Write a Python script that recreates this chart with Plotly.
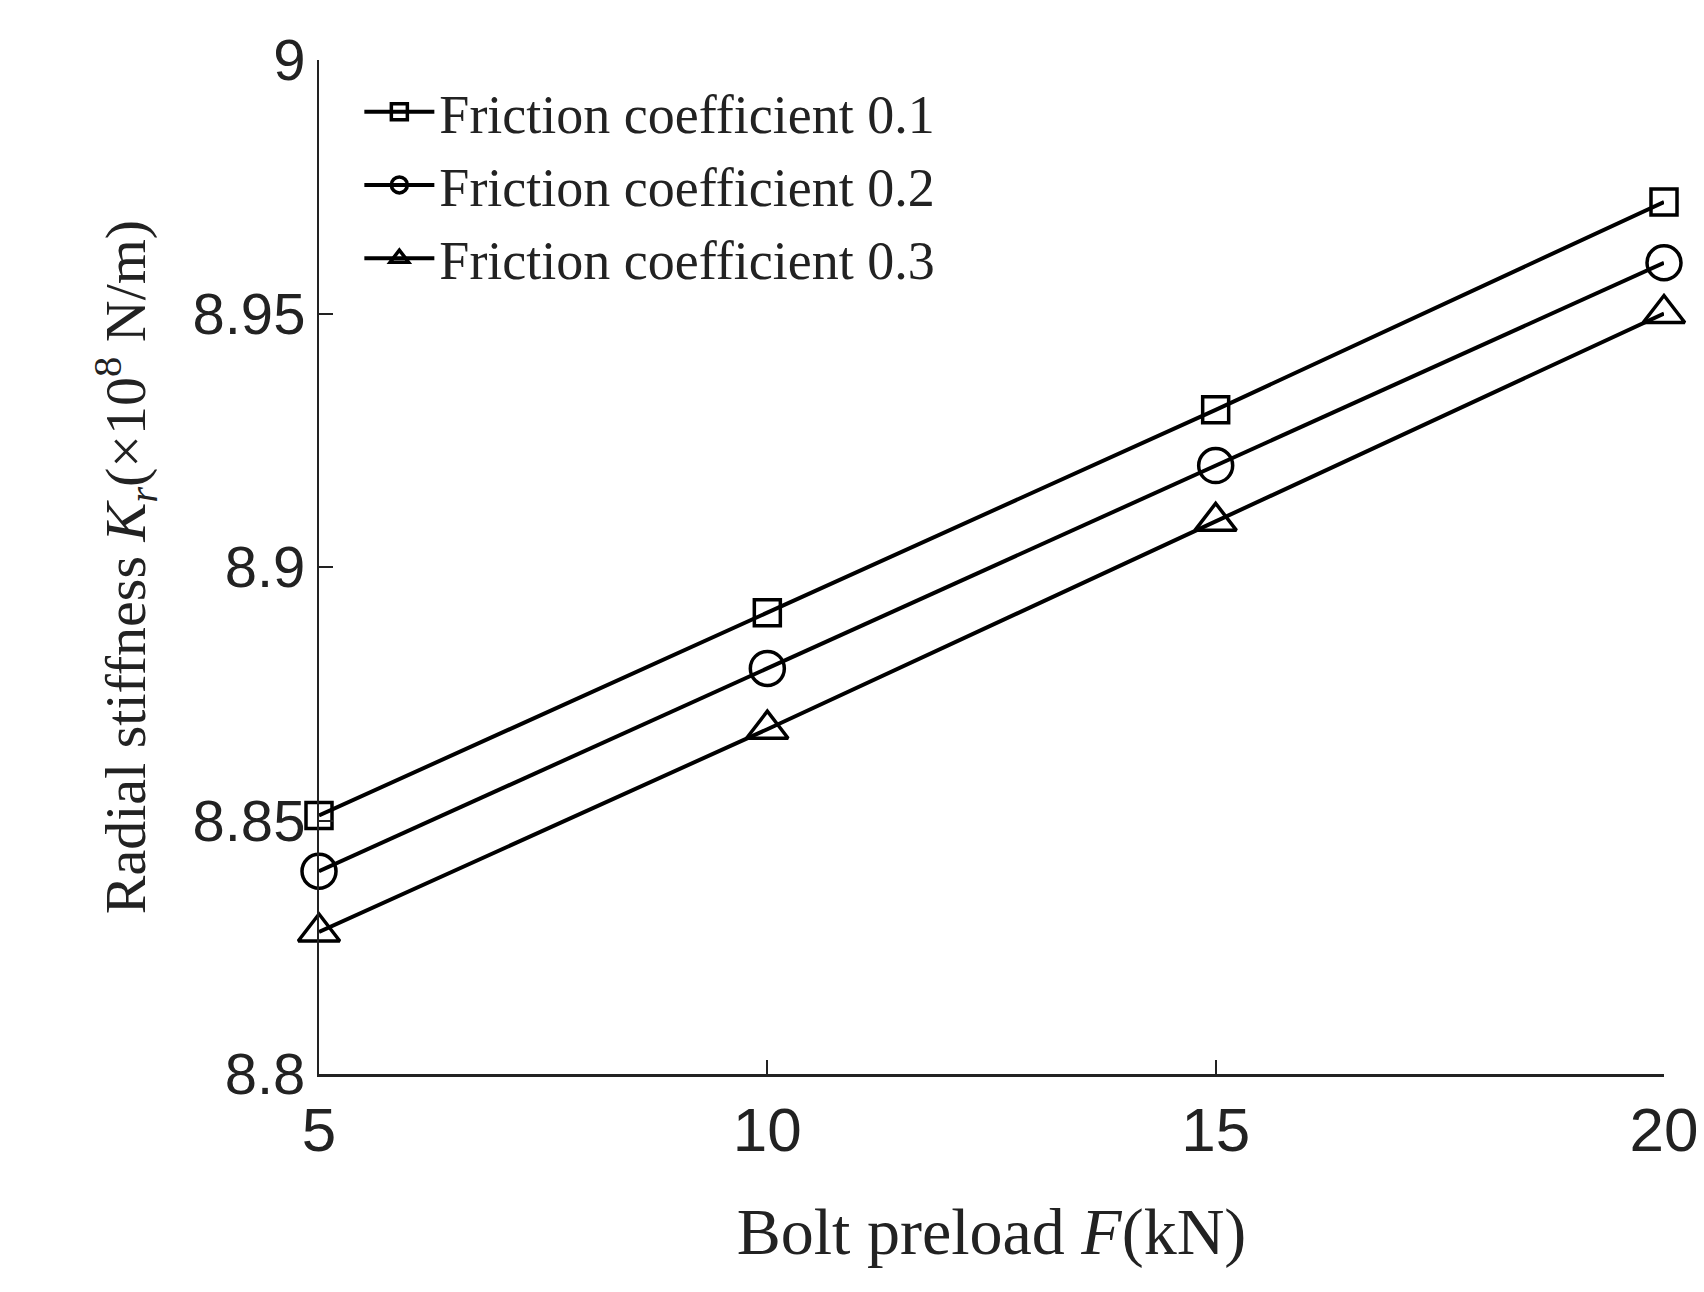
import plotly.graph_objects as go

preload = [5, 10, 15, 20]
mu01 = [8.851, 8.891, 8.931, 8.972]
mu02 = [8.840, 8.880, 8.920, 8.960]
mu03 = [8.828, 8.868, 8.909, 8.950]
names = ["Friction coefficient 0.1", "Friction coefficient 0.2", "Friction coefficient 0.3"]
symbols = ["square-open", "circle-open", "triangle-up-open"]
sizes = [26, 34, 36]

fig = go.Figure()
for ys, name, sym, sz in zip([mu01, mu02, mu03], names, symbols, sizes):
    fig.add_trace(go.Scatter(
        x=preload, y=ys, name=name, mode="lines+markers",
        line=dict(color="black", width=4),
        marker=dict(symbol=sym, size=sz, color="black", line=dict(width=3.5, color="black")),
        cliponaxis=False))

fig.update_layout(
    width=1704, height=1292, plot_bgcolor="white", paper_bgcolor="white",
    margin=dict(l=311, r=48, t=52, b=226),
    font=dict(family="Liberation Sans", color="#222"),
    legend=dict(x=0.03, y=0.99, xanchor="left", yanchor="top", bgcolor="rgba(0,0,0,0)",
                font=dict(family="Liberation Serif", size=54, color="#222"), tracegroupgap=0,
                itemwidth=70),
    xaxis=dict(range=[5, 20], tickvals=[5, 10, 15, 20], ticks="inside", ticklen=14,
               tickwidth=2, tickcolor="#222", showline=True, linecolor="#222", linewidth=3,
               showgrid=False, zeroline=False, tickfont=dict(size=62),
               title=dict(text="Bolt preload <i>F</i>(kN)", standoff=45,
                          font=dict(family="Liberation Serif", size=66))),
    yaxis=dict(range=[8.8, 9.0], tickvals=[8.8, 8.85, 8.9, 8.95, 9.0],
               ticktext=["8.8", "8.85", "8.9", "8.95", "9"], ticks="inside", ticklen=14,
               tickwidth=2, tickcolor="#222", showline=True, linecolor="#222", linewidth=2,
               showgrid=False, zeroline=False, tickfont=dict(size=58),
               title=dict(text="Radial stiffness <i>K<sub>r</sub></i>(×10<sup>8</sup> N/m)", standoff=28,
                          font=dict(family="Liberation Serif", size=58))),
)

fig.write_html("out.html")
